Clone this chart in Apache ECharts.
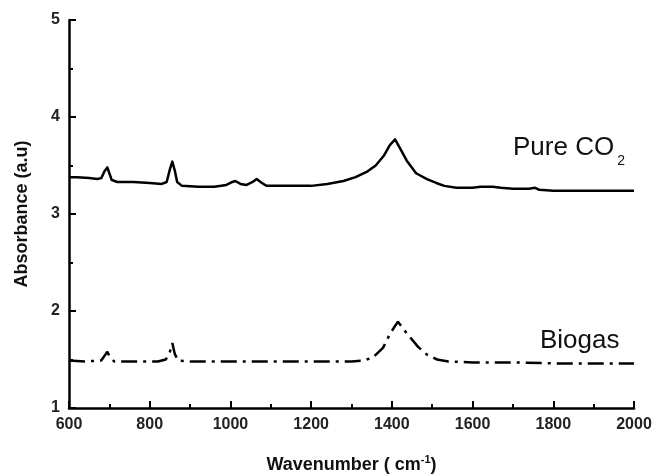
<!DOCTYPE html>
<html>
<head>
<meta charset="utf-8">
<script src="https://cdn.jsdelivr.net/npm/echarts@6/dist/echarts.min.js"></script>
<style>html,body{margin:0;padding:0;background:#fff}#c{width:655px;height:474px}</style>
</head>
<body>
<div id="c"></div>
<script>
// Pure CO2 spectrum: [wavenumber, absorbance]
const pureCO2Wavenumber = [600,620,650,670,680,688,695,700,706,720,760,800,830,842,850,856,862,868,880,920,960,990,1005,1012,1025,1040,1055,1065,1078,1090,1150,1200,1240,1280,1310,1340,1360,1380,1395,1408,1420,1437,1460,1487,1510,1530,1560,1600,1620,1650,1670,1700,1740,1755,1765,1800,1900,2000];
const pureCO2Absorbance = [3.38,3.38,3.37,3.36,3.37,3.44,3.48,3.42,3.35,3.33,3.33,3.32,3.31,3.33,3.46,3.54,3.45,3.33,3.29,3.28,3.28,3.30,3.33,3.34,3.31,3.30,3.33,3.36,3.32,3.29,3.29,3.29,3.31,3.34,3.38,3.44,3.50,3.60,3.71,3.77,3.68,3.55,3.42,3.36,3.32,3.29,3.27,3.27,3.28,3.28,3.27,3.26,3.26,3.27,3.25,3.24,3.24,3.24];
// Biogas spectrum
const biogasWavenumber = [600,640,680,690,695,702,712,760,820,840,850,856,862,870,900,1000,1100,1200,1300,1330,1353,1378,1396,1415,1437,1465,1487,1512,1540,1600,1700,1800,1900,2000];
const biogasAbsorbance = [1.49,1.48,1.49,1.55,1.58,1.52,1.48,1.48,1.48,1.50,1.58,1.67,1.56,1.49,1.48,1.48,1.48,1.48,1.48,1.49,1.52,1.62,1.77,1.89,1.77,1.63,1.55,1.50,1.48,1.47,1.47,1.46,1.46,1.46];

const xMin = 600, xMax = 2000, xStep = 200;
const yMin = 1, yMax = 5, yStep = 1;

const zip = (a, b) => a.map((v, i) => [v, b[i]]);

const chart = echarts.init(document.getElementById('c'), null, {renderer: 'canvas'});
const font = 'Liberation Sans, Arial, sans-serif';
const axisCommon = {
  axisLine: {show: true, lineStyle: {color: '#000', width: 2.5}},
  axisTick: {show: true, inside: true, length: 7, lineStyle: {color: '#000', width: 2}},
  minorTick: {show: true, splitNumber: 2, length: 4, lineStyle: {color: '#000', width: 2}},
  splitLine: {show: false},
  axisLabel: {color: '#222', fontFamily: font, fontWeight: 'bold', fontSize: 16, formatter: v => String(v)}
};
chart.setOption({
  animation: false,
  grid: {left: 69, right: 21, top: 20, bottom: 66, containLabel: false, outerBoundsMode: 'none'},
  xAxis: Object.assign({}, axisCommon, {
    type: 'value', min: xMin, max: xMax, interval: xStep,
    axisLabel: Object.assign({}, axisCommon.axisLabel, {margin: 9}),
    name: 'Wavenumber ( cm{sup|-1})',
    nameLocation: 'middle', nameGap: 46,
    nameTextStyle: {color: '#111', fontFamily: font, fontWeight: 'bold', fontSize: 18, lineHeight: 22,
      rich: {sup: {fontFamily: font, fontWeight: 'bold', fontSize: 11, verticalAlign: 'top', lineHeight: 22, padding: [0,0,8,0]}}}
  }),
  yAxis: Object.assign({}, axisCommon, {
    type: 'value', min: yMin, max: yMax, interval: yStep,
    axisLabel: Object.assign({}, axisCommon.axisLabel, {margin: 9}),
    name: 'Absorbance (a.u)',
    nameLocation: 'middle', nameGap: 38, nameRotate: 90,
    nameTextStyle: {color: '#111', fontFamily: font, fontWeight: 'bold', fontSize: 18}
  }),
  series: [
    {type: 'line', name: 'Pure CO2', data: zip(pureCO2Wavenumber, pureCO2Absorbance), showSymbol: false,
     lineStyle: {color: '#000', width: 2.5, join: 'round'}},
    {type: 'line', name: 'Biogas', data: zip(biogasWavenumber, biogasAbsorbance), showSymbol: false,
     lineStyle: {color: '#000', width: 2.5, type: [16, 6, 3, 6]}}
  ],
  graphic: [
    {type: 'text', left: 513, top: 135, style: {text: 'Pure CO{sub|2}', font: 'normal 26px ' + font, fill: '#111',
      rich: {sub: {font: 'normal 14px ' + font, fill: '#111', verticalAlign: 'bottom', padding: [27,0,0,3]}}}},
    {type: 'text', left: 540, top: 328, style: {text: 'Biogas', font: 'normal 26px ' + font, fill: '#111'}}
  ]
});
</script>
</body>
</html>
